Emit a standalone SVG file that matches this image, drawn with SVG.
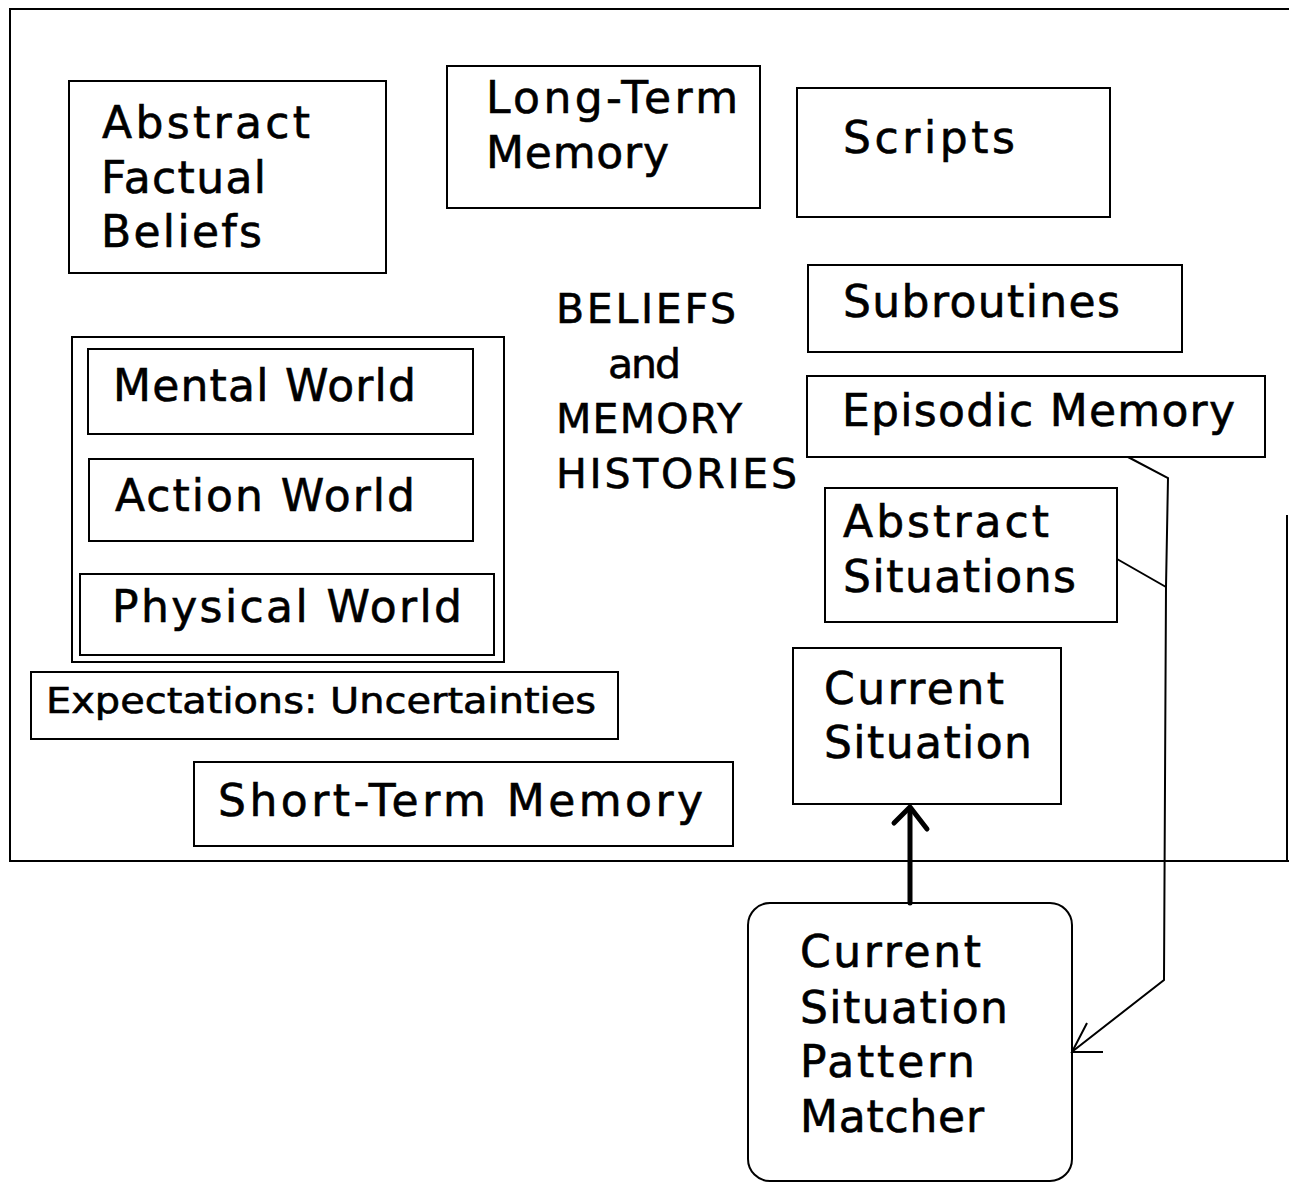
<svg xmlns="http://www.w3.org/2000/svg" width="1289" height="1182" viewBox="0 0 1289 1182">
  <style>
    .box { fill: none; stroke: #000; stroke-width: 2; }
    .frame { fill: none; stroke: #000; stroke-width: 2; }
    .lbl { font-family: "DejaVu Sans", "Liberation Sans", sans-serif; font-size: 44px; fill: #000; stroke: #000; stroke-width: 0.6; }
    .big { font-size: 41px; }
    .small { font-size: 35px; }
    .wire { fill: none; stroke: #000; stroke-width: 2; stroke-linejoin: miter; }
    .thick { fill: none; stroke: #000; stroke-width: 5; stroke-linecap: round; stroke-linejoin: round; }
  </style>
  <rect width="1289" height="1182" fill="#fff"/>

  <!-- outer frame: beliefs and memory histories -->
  <g id="frame">
    <path class="frame" d="M1289,9 L10,9 L10,861 L1289,861"/>
    <line class="frame" x1="1287" y1="515" x2="1287" y2="861"/>
  </g>

  <g id="abstract-factual-beliefs">
    <rect class="box" x="69" y="81" width="317" height="192"/>
    <text class="lbl" x="102" y="138" textLength="208" lengthAdjust="spacing">Abstract</text>
    <text class="lbl" x="101" y="193" textLength="165" lengthAdjust="spacing">Factual</text>
    <text class="lbl" x="101" y="247" textLength="161" lengthAdjust="spacing">Beliefs</text>
  </g>

  <g id="long-term-memory">
    <rect class="box" x="447" y="66" width="313" height="142"/>
    <text class="lbl" x="486" y="113" textLength="252" lengthAdjust="spacing">Long-Term</text>
    <text class="lbl" x="486" y="168" textLength="183" lengthAdjust="spacing">Memory</text>
  </g>

  <g id="scripts">
    <rect class="box" x="797" y="88" width="313" height="129"/>
    <text class="lbl" x="843" y="153" textLength="172" lengthAdjust="spacing">Scripts</text>
  </g>

  <g id="beliefs-title">
    <text class="lbl big" x="556" y="323" textLength="180" lengthAdjust="spacing">BELIEFS</text>
    <text class="lbl big" x="608" y="378" textLength="73" lengthAdjust="spacing">and</text>
    <text class="lbl big" x="556" y="433" textLength="186" lengthAdjust="spacing">MEMORY</text>
    <text class="lbl big" x="556" y="488" textLength="241" lengthAdjust="spacing">HISTORIES</text>
  </g>

  <g id="subroutines">
    <rect class="box" x="808" y="265" width="374" height="87"/>
    <text class="lbl" x="843" y="317" textLength="277" lengthAdjust="spacing">Subroutines</text>
  </g>

  <g id="episodic-memory">
    <rect class="box" x="807" y="376" width="458" height="81"/>
    <text class="lbl" x="842" y="426" textLength="393" lengthAdjust="spacing">Episodic Memory</text>
  </g>

  <g id="abstract-situations">
    <rect class="box" x="825" y="488" width="292" height="134"/>
    <text class="lbl" x="843" y="537" textLength="206" lengthAdjust="spacing">Abstract</text>
    <text class="lbl" x="843" y="592" textLength="233" lengthAdjust="spacing">Situations</text>
  </g>

  <g id="current-situation">
    <rect class="box" x="793" y="648" width="268" height="156"/>
    <text class="lbl" x="824" y="704" textLength="180" lengthAdjust="spacing">Current</text>
    <text class="lbl" x="824" y="758" textLength="208" lengthAdjust="spacing">Situation</text>
  </g>

  <!-- world models container -->
  <g id="worlds">
    <rect class="box" x="72" y="337" width="432" height="325"/>
    <g id="mental-world">
      <rect class="box" x="88" y="349" width="385" height="85"/>
      <text class="lbl" x="113" y="401" textLength="303" lengthAdjust="spacing">Mental World</text>
    </g>
    <g id="action-world">
      <rect class="box" x="89" y="459" width="384" height="82"/>
      <text class="lbl" x="115" y="511" textLength="300" lengthAdjust="spacing">Action World</text>
    </g>
    <g id="physical-world">
      <rect class="box" x="80" y="574" width="414" height="81"/>
      <text class="lbl" x="112" y="622" textLength="350" lengthAdjust="spacing">Physical World</text>
    </g>
  </g>

  <g id="expectations">
    <rect class="box" x="31" y="672" width="587" height="67"/>
    <text class="lbl small" x="46" y="713" textLength="550" lengthAdjust="spacingAndGlyphs">Expectations: Uncertainties</text>
  </g>

  <g id="short-term-memory">
    <rect class="box" x="194" y="762" width="539" height="84"/>
    <text class="lbl" x="218" y="816" textLength="485" lengthAdjust="spacing">Short-Term Memory</text>
  </g>

  <g id="pattern-matcher">
    <rect class="box" x="748" y="903" width="324" height="278" rx="22" ry="22"/>
    <text class="lbl" x="800" y="967" textLength="181" lengthAdjust="spacing">Current</text>
    <text class="lbl" x="800" y="1023" textLength="208" lengthAdjust="spacing">Situation</text>
    <text class="lbl" x="800" y="1077" textLength="175" lengthAdjust="spacing">Pattern</text>
    <text class="lbl" x="800" y="1132" textLength="184" lengthAdjust="spacing">Matcher</text>
  </g>

  <!-- connectors -->
  <g id="connectors">
    <path class="wire" d="M1128,457 L1168,478 L1166,587 L1164,980 L1073,1051"/>
    <path class="wire" d="M1117,559 L1166,587"/>
    <path class="wire" d="M1087,1023 L1072,1052 L1103,1052"/>
    <line class="thick" x1="910" y1="903" x2="910" y2="808"/>
    <path class="thick" d="M894,823 L910,807 L927,829"/>
  </g>
</svg>
